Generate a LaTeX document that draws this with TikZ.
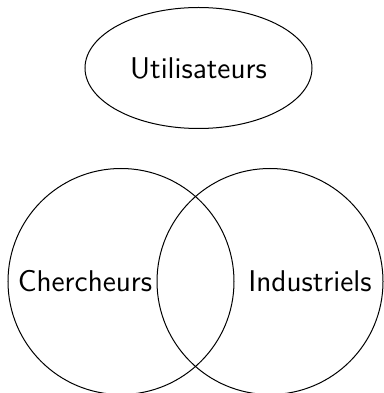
\documentclass[tikz,border=0pt]{standalone}
\usepackage{tikz}
\usetikzlibrary{shapes.geometric,positioning}
\begin{document}
\begin{tikzpicture}[x=0.4pt,y=0.4pt,on grid,font=\sffamily\large,
  ensemble/.style={draw,circle,minimum size=90.4pt,inner sep=0pt},
  groupe/.style={draw,ellipse,minimum width=90.8pt,minimum height=48.4pt}]
  \useasboundingbox (0,0) rectangle (384,393);
  \node[ensemble] (cherch)               at (121,111.5) {};
  \node[ensemble] (indus)  [right=59.6pt of cherch]     {};
  \node[groupe]   (util)                 at (198.5,325) {Utilisateurs};
  \node           (lcherch) [left=14.4pt of cherch]     {Chercheurs};
  \node           (lindus)  [right=16pt of indus]       {Industriels};
\end{tikzpicture}
\end{document}
